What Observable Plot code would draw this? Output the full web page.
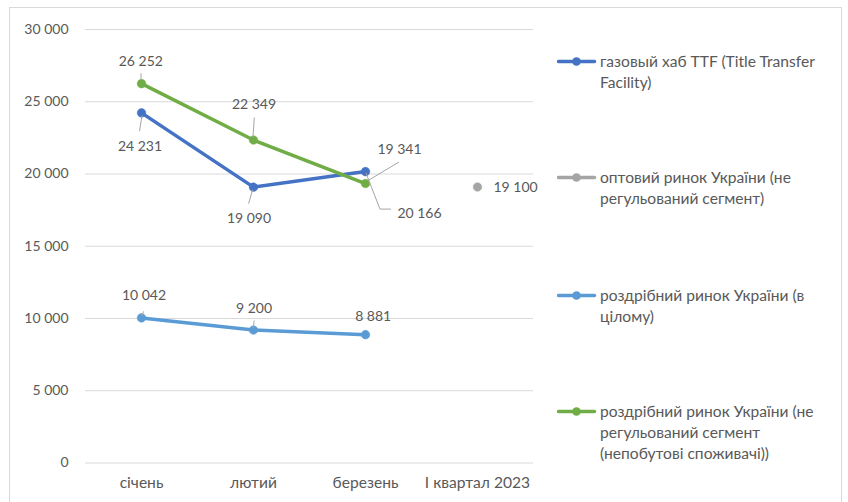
<!DOCTYPE html>
<html>
<head>
<meta charset="utf-8">
<script src="https://cdn.jsdelivr.net/npm/d3@7"></script>
<script src="https://cdn.jsdelivr.net/npm/@observablehq/plot@0.6"></script>
<style>
  html, body { margin: 0; padding: 0; background: #fff; }
  #wrap { position: relative; width: 848px; height: 502px; overflow: hidden; font-family: Lato, "Open Sans", sans-serif; color: #595959; }
  #frame { position: absolute; left: 9px; top: 7px; width: 833px; height: 540px; border: 1px solid #D9D9D9; box-sizing: border-box; pointer-events: none; }
  #chart { position: absolute; left: 0; top: 0; }
  .leg { position: absolute; left: 557px; font-size: 15.6px; line-height: 21px; white-space: nowrap; }
  .leg svg { position: absolute; left: 0; top: 0; }
  .leg .txt { position: absolute; left: 43px; top: 0; }
</style>
</head>
<body>
<div id="wrap">
  <div id="chart"></div>
  <div id="legend"></div>
  <div id="frame"></div>
</div>
<script>
// ---- data ----
const cats = ["січень", "лютий", "березень", "I квартал 2023"];
const ttf = [24231, 19090, 20166, null];
const wholesale = [null, null, null, 19100];
const retailTotal = [10042, 9200, 8881, null];
const retailNonReg = [26252, 22349, 19341, null];
const seriesKeys = ["ttf", "wholesale", "retailTotal", "retailNonReg"];
const seriesNames = [
  "газовый хаб TTF (Title Transfer Facility)",
  "оптовий ринок України (не регульований сегмент)",
  "роздрібний ринок України (в цілому)",
  "роздрібний ринок України (не регульований сегмент (непобутові споживачі))"
];
const legendLines = [
  ["газовый хаб TTF (Title Transfer", "Facility)"],
  ["оптовий ринок України (не", "регульований сегмент)"],
  ["роздрібний ринок України (в", "цілому)"],
  ["роздрібний ринок України (не", "регульований сегмент", "(непобутові споживачі))"]
];
const seriesColors = ["#4472C4", "#A5A5A5", "#5B9BD5", "#70AD47"];
const yTicks = [0, 5000, 10000, 15000, 20000, 25000, 30000];
const seriesValues = [ttf, wholesale, retailTotal, retailNonReg];

// ---- label layout (pixel offsets from each point) ----
const labelLayout = {
  ttf: [
    {dx: -1.5, dy: 34, leader: [[1, 3], [-1.5, 19]]},
    {dx: -4.5, dy: 31, leader: [[-0.4, 3], [-4.4, 17]]},
    {dx: 54, dy: 42, leader: [[1, 2], [15, 38], [26, 38]]},
    null
  ],
  wholesale: [null, null, null, {dx: 16, dy: 0.5, anchor: "start"}],
  retailTotal: [
    {dx: 2.5, dy: -22, leader: [[2.6, -6], [1, -1.5]]},
    {dx: 0.5, dy: -22, leader: [[1.3, -9], [0, -1.5]]},
    {dx: 7.7, dy: -18.5},
    null
  ],
  retailNonReg: [
    {dx: -0.7, dy: -22, leader: [[0, -10], [0, -3]]},
    {dx: 0.5, dy: -36, leader: [[1.3, -22], [0, -2.5]]},
    {dx: 34, dy: -34, leader: [[34, -21], [3.3, -2.6]]},
    null
  ]
};

const fmt = d3.formatLocale({decimal: ",", thousands: "\u00a0", grouping: [3], currency: ["", ""]}).format(",d");

const series = seriesKeys.map((k, i) => ({key: k, name: seriesNames[i], color: seriesColors[i], values: seriesValues[i]}));
const rows = series.flatMap(s => cats.map((c, i) => ({key: s.key, series: s.name, cat: c, idx: i, value: s.values[i], color: s.color}))
  .filter(d => d.value != null));

const marks = [
  Plot.ruleY(yTicks, {stroke: "#D9D9D9", strokeWidth: 1}),
  Plot.axisY({ticks: yTicks, tickSize: 0, tickPadding: 17, tickFormat: fmt, label: null}),
  Plot.axisX({tickSize: 0, tickPadding: 14, label: null, fontSize: 15.6})
];
for (const s of series) {
  const d = rows.filter(r => r.key === s.key);
  marks.push(Plot.line(d, {x: "cat", y: "value", stroke: s.color, strokeWidth: 3.5}));
  marks.push(Plot.dot(d, {x: "cat", y: "value", r: 4.3, fill: s.color, stroke: s.color, strokeWidth: 0.5}));
}
for (const r of rows) {
  const L = labelLayout[r.key][r.idx];
  if (!L) continue;
  marks.push(Plot.text([r], {x: "cat", y: "value", text: d => fmt(d.value), dx: L.dx, dy: L.dy,
    textAnchor: L.anchor || "middle", fill: "#595959", fontSize: 14}));
}

const plot = Plot.plot({
  width: 848,
  height: 502,
  marginLeft: 85,
  marginRight: 315,
  marginTop: 29,
  marginBottom: 39.5,
  style: {fontFamily: "Lato, 'Open Sans', sans-serif", fontSize: "14px", color: "#595959", background: "transparent"},
  x: {type: "point", domain: cats, padding: 0.5},
  y: {domain: [0, 30000]},
  marks
});
document.getElementById("chart").appendChild(plot);

// leader lines, positioned through the plot's own scales
const xs = plot.scale("x"), ys = plot.scale("y");
const svg = d3.select(plot);
const gl = svg.append("g").attr("fill", "none").attr("stroke", "#A6A6A6").attr("stroke-width", 1);
for (const r of rows) {
  const L = labelLayout[r.key][r.idx];
  if (!L || !L.leader) continue;
  const px = xs.apply(r.cat), py = ys.apply(r.value);
  gl.append("path").attr("d", d3.line()(L.leader.map(([a, b]) => [px + a, py + b])));
}

// legend
const legend = document.getElementById("legend");
const legendTops = [51, 167, 284.5, 400.5];
series.forEach((s, i) => {
  const div = document.createElement("div");
  div.className = "leg";
  div.style.top = legendTops[i] + "px";
  div.innerHTML = `<svg width="42" height="21"><line x1="1.5" x2="37.5" y1="10.5" y2="10.5" stroke="${s.color}" stroke-width="3.5" stroke-linecap="round"/><circle cx="19.5" cy="10.5" r="4.3" fill="${s.color}"/></svg><div class="txt"></div>`;
  div.querySelector(".txt").innerHTML = legendLines[i].map(t => `<div>${t}</div>`).join("");
  legend.appendChild(div);
});
</script>
</body>
</html>
